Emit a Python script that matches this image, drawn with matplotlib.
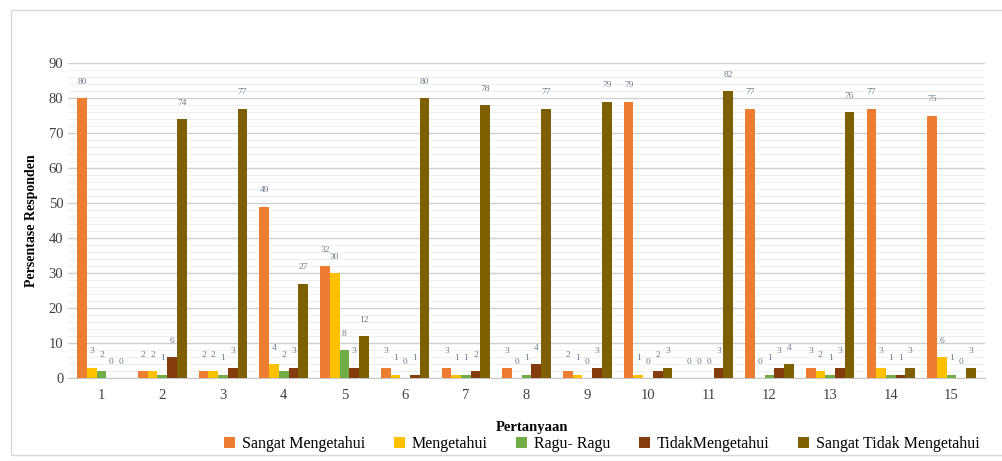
import numpy as np
import matplotlib.pyplot as plt
from matplotlib.patches import Rectangle

plt.rcParams['font.family'] = ['Liberation Serif', 'DejaVu Serif']

questions = [str(i) for i in range(1, 16)]
series_names = ['Sangat Mengetahui', 'Mengetahui', 'Ragu- Ragu',
                'TidakMengetahui', 'Sangat Tidak Mengetahui']
sangat_tahu = [80, 2, 2, 49, 32, 3, 3, 3, 2, 79, 0, 77, 3, 77, 75]
tahu = [3, 2, 2, 4, 30, 1, 1, 0, 1, 1, 0, 0, 2, 3, 6]
ragu = [2, 1, 1, 2, 8, 0, 1, 1, 0, 0, 0, 1, 1, 1, 1]
tidak_tahu = [0, 6, 3, 3, 3, 1, 2, 4, 3, 2, 3, 3, 3, 1, 0]
sangat_tidak = [0, 74, 77, 27, 12, 80, 78, 77, 79, 3, 82, 4, 76, 3, 3]
colors = ['#ED7D31', '#FFC000', '#70AD47', '#843C0C', '#7F6000']

values = [sangat_tahu, tahu, ragu, tidak_tahu, sangat_tidak]

fig = plt.figure(figsize=(10.03, 4.61), dpi=100)
ax = fig.add_axes([0.068, 0.18, 0.914, 0.683])

x = np.arange(len(questions))
w = 0.16
for i, (vals, name, c) in enumerate(zip(values, series_names, colors)):
    pos = x + (i - 2) * w
    ax.bar(pos, vals, w, color=c, label=name, zorder=3)
    for p, v in zip(pos, vals):
        ax.text(p, v + 3.5, str(v), ha='center', va='bottom',
                fontsize=6.8, color='#6b7a8f', zorder=4)

ax.set_xlim(-0.55, len(questions) - 0.45)
ax.set_ylim(0, 90)
ax.set_yticks(range(0, 91, 10))
ax.set_yticks(range(0, 91, 2), minor=True)
ax.set_xticks(x)
ax.set_xticklabels(questions)
ax.tick_params(axis='both', length=0, labelsize=10.5, colors='#404040')
ax.tick_params(axis='x', pad=8)
ax.tick_params(axis='y', which='minor', length=0)
ax.grid(axis='y', which='major', color='#d0d0d0', linewidth=1, zorder=0)
ax.grid(axis='y', which='minor', color='#ececec', linewidth=0.6, zorder=0)
for s in ['top', 'right', 'left']:
    ax.spines[s].set_visible(False)
ax.spines['bottom'].set_color('#c8c8c8')

ax.set_ylabel('Persentase Responden', fontsize=10, fontweight='bold', labelpad=8)
fig.text(0.53, 0.072, 'Pertanyaan', ha='center', va='center',
         fontsize=10.5, fontweight='bold')

fig.legend(loc='center', bbox_to_anchor=(0.6, 0.036), ncol=5, frameon=False,
           fontsize=11.5, handlelength=0.7, handleheight=0.7, handletextpad=0.4,
           columnspacing=1.8)

fig.patches.append(Rectangle((0.011, 0.013), 1.0, 0.965, transform=fig.transFigure,
                             fill=False, edgecolor='#d9d9d9', linewidth=1))

fig.savefig('out.png', dpi=100)
